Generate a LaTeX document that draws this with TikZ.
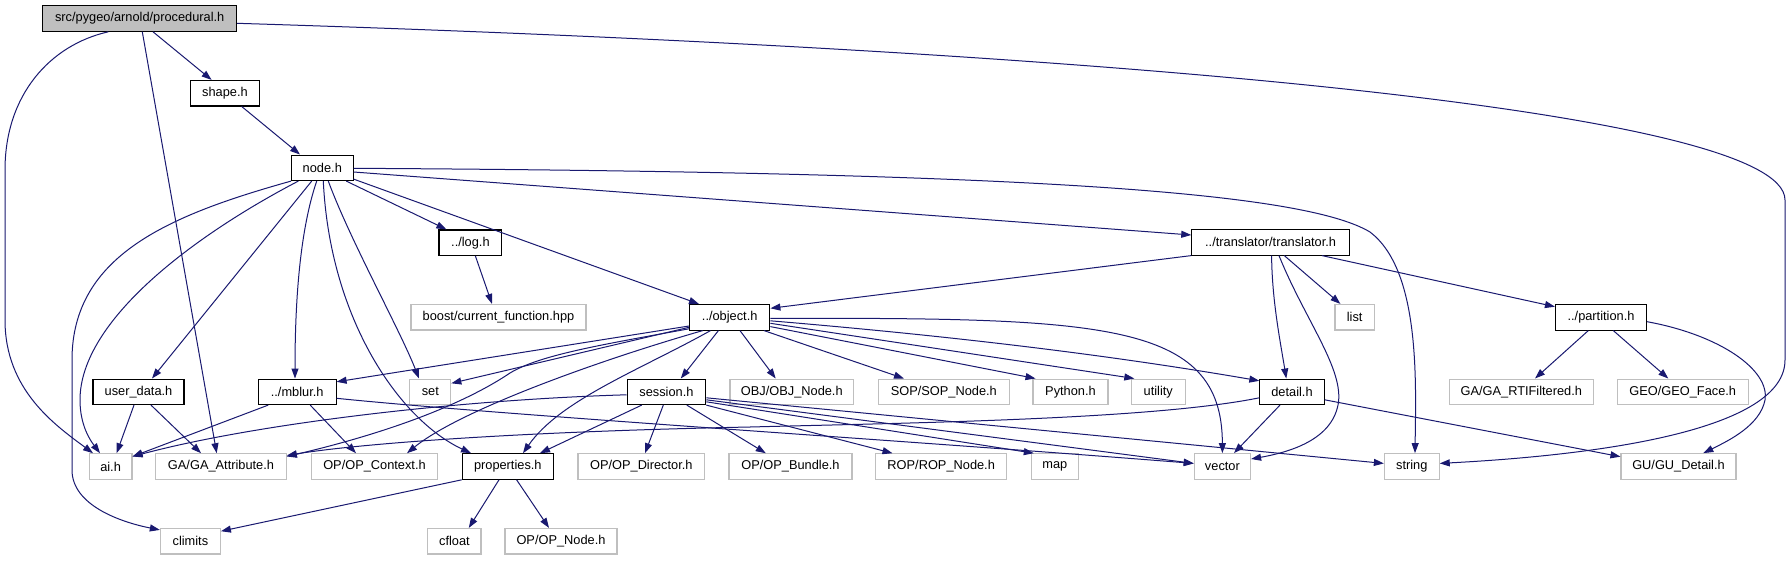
\documentclass[tikz,border=0pt]{standalone}
\usepackage{fontspec}
\setmainfont{Liberation Sans}
\usetikzlibrary{arrows.meta}
\definecolor{depblue}{RGB}{25,25,112}
\definecolor{extgray}{RGB}{191,191,191}
\tikzset{
  box/.style={line width=1.1pt, minimum height=25.5pt, inner sep=0pt, font=\fontsize{12.8}{14}\selectfont, fill=white, text=black},
  docbox/.style={box, draw=black},
  extbox/.style={box, draw=extgray},
  dep/.style={draw=depblue, line width=1pt, -{Triangle[length=10pt,width=7pt]}},
}
\begin{document}
\begin{tikzpicture}[x=1pt,y=-1pt]
\useasboundingbox (0,0) rectangle (1792,560);
\fill[white] (0,0) rectangle (1792,560);
% nodes
\node[docbox, fill=extgray, minimum width=193.6pt] (proc) at (139.7,18.5) {src/pygeo/arnold/procedural.h};
\node[docbox, minimum width=68.5pt] (shape) at (225,93.2) {shape.h};
\node[docbox, minimum width=61.5pt] (node) at (322.3,167.8) {node.h};
\node[docbox, minimum width=62.8pt] (log) at (470.4,242.7) {../log.h};
\node[docbox, minimum width=157.6pt] (trans) at (1270.6,242.3) {../translator/translator.h};
\node[extbox, minimum width=175pt] (boost) at (498.5,317.2) {boost/current\_function.hpp};
\node[docbox, minimum width=80.3pt] (object) at (729.7,317.3) {../object.h};
\node[extbox, minimum width=39.4pt] (list) at (1354.7,317.2) {list};
\node[docbox, minimum width=91pt] (partition) at (1601,317.3) {../partition.h};
\node[docbox, minimum width=91pt] (userdata) at (138.5,391.8) {user\_data.h};
\node[docbox, minimum width=77.7pt] (mblur) at (297.2,391.8) {../mblur.h};
\node[extbox, minimum width=41pt] (set) at (430.3,391.8) {set};
\node[docbox, minimum width=78.7pt] (session) at (666.4,391.8) {session.h};
\node[extbox, minimum width=123.7pt] (objnode) at (791.8,391.8) {OBJ/OBJ\_Node.h};
\node[extbox, minimum width=130.8pt] (sopnode) at (943.8,391.8) {SOP/SOP\_Node.h};
\node[extbox, minimum width=75pt] (python) at (1070.5,391.8) {Python.h};
\node[extbox, minimum width=53.8pt] (utility) at (1158.3,391.8) {utility};
\node[docbox, minimum width=64.3pt] (detail) at (1292,391.8) {detail.h};
\node[extbox, minimum width=144.2pt] (rtif) at (1521.3,391.8) {GA/GA\_RTIFiltered.h};
\node[extbox, minimum width=131.2pt] (geoface) at (1682.7,391.8) {GEO/GEO\_Face.h};
\node[extbox, minimum width=42.8pt] (ai) at (110.6,466.5) {ai.h};
\node[extbox, minimum width=130.5pt] (gaattr) at (221,466.5) {GA/GA\_Attribute.h};
\node[extbox, minimum width=126.7pt] (opctx) at (374.5,466.5) {OP/OP\_Context.h};
\node[docbox, minimum width=91pt] (props) at (507.8,466.5) {properties.h};
\node[extbox, minimum width=126.6pt] (opdir) at (641.3,466.5) {OP/OP\_Director.h};
\node[extbox, minimum width=123pt] (opbundle) at (790.5,466.5) {OP/OP\_Bundle.h};
\node[extbox, minimum width=130.7pt] (ropnode) at (941.2,466.5) {ROP/ROP\_Node.h};
\node[extbox, minimum width=47pt] (map) at (1054.8,466.5) {map};
\node[extbox, minimum width=56.3pt] (vector) at (1222.4,466.4) {vector};
\node[extbox, minimum width=54.8pt] (string) at (1411.8,466.4) {string};
\node[extbox, minimum width=115pt] (gudetail) at (1678.5,466.4) {GU/GU\_Detail.h};
\node[extbox, minimum width=60pt] (climits) at (190.4,541.2) {climits};
\node[extbox, minimum width=53.2pt] (cfloat) at (454.4,541.2) {cfloat};
\node[extbox, minimum width=112pt] (opnode) at (561,541.2) {OP/OP\_Node.h};
% edges from procedural.h
\draw[dep] ([xshift=13.3pt]proc.south) -- ([xshift=-13.4pt]shape.north);
\draw[dep] ([xshift=-31.4pt]proc.south) .. controls (50,45) and (5,95) .. (5,170) -- (5,320) .. controls (5,390) and (55,425) .. ([xshift=-17.6pt]ai.north);
\draw[dep] ([xshift=2.6pt]proc.south) -- ([xshift=-4.3pt]gaattr.north);
\draw[dep] ([yshift=-4.8pt]proc.east) .. controls (1100,50) and (1785,110) .. (1785,200) -- (1785,360) .. controls (1785,430) and (1600,455) .. ([yshift=3pt]string.east);
% shape.h
\draw[dep] ([xshift=16.7pt]shape.south) -- ([xshift=-22.3pt]node.north);
% node.h
\draw[dep] (node.south west) .. controls (170,215) and (72,255) .. (72,360) -- (72,470) .. controls (72,505) and (120,522) .. ([yshift=-2pt]climits.north west);
\draw[dep] ([xshift=-24pt]node.south) .. controls (195,235) and (80,320) .. (80,400) .. controls (80,425) and (90,440) .. ([xshift=-10.6pt]ai.north);
\draw[dep] ([xshift=-10.6pt]node.south) -- ([xshift=13.5pt]userdata.north);
\draw[dep] ([xshift=-5.6pt]node.south) .. controls (300,230) and (295,300) .. ([xshift=-2.2pt]mblur.north);
\draw[dep] ([xshift=1pt]node.south) .. controls (330,320) and (400,420) .. ([xshift=-36.8pt]props.north);
\draw[dep] ([xshift=6pt]node.south) .. controls (350,240) and (400,330) .. ([xshift=-11.3pt]set.north);
\draw[dep] ([xshift=24pt]node.south) -- ([xshift=-24pt]log.north);
\draw[dep] ([yshift=2pt]node.south east) -- ([xshift=-30.7pt]object.north);
\draw[dep] ([yshift=-4.2pt]node.east) -- ([yshift=7.3pt]trans.west);
\draw[dep] ([yshift=-0.5pt]node.east) .. controls (1000,172) and (1300,190) .. (1370,232) .. controls (1420,270) and (1416,380) .. ([xshift=3.2pt]string.north);
% log.h
\draw[dep] ([xshift=5pt]log.south) -- ([xshift=-6.5pt]boost.north);
% translator.h
\draw[dep] (trans.south west) -- ([yshift=9pt]object.east);
\draw[dep] ([xshift=1pt]trans.south) .. controls (1272,300) and (1280,340) .. ([xshift=-5.7pt]detail.north);
\draw[dep] ([xshift=8.4pt]trans.south) .. controls (1305,320) and (1345,370) .. (1338,405) .. controls (1331,440) and (1290,452) .. ([yshift=7.4pt]vector.east);
\draw[dep] ([xshift=13.7pt]trans.south) -- ([xshift=-14.3pt]list.north);
\draw[dep] ([xshift=51.4pt]trans.south) -- ([yshift=10.6pt]partition.west);
% partition.h
\draw[dep] ([xshift=-12.7pt]partition.south) -- ([xshift=13.7pt]rtif.north);
\draw[dep] ([xshift=12.3pt]partition.south) -- ([xshift=-14.4pt]geoface.north);
\draw[dep] ([yshift=-4.4pt]partition.east) .. controls (1720,335) and (1770,370) .. (1765,400) .. controls (1760,425) and (1730,440) .. ([xshift=24.8pt]gudetail.north);
% object.h
\draw[dep] ([yshift=-8.7pt]object.west) -- ([yshift=10pt]mblur.east);
\draw[dep] ([yshift=-10pt]object.west) -- ([yshift=8.5pt]set.east);
\draw[dep] ([yshift=-11.5pt]object.west) .. controls (600,345) and (540,355) .. (510,373) .. controls (470,400) and (400,430) .. ([yshift=10pt]gaattr.east);
\draw[dep] ([xshift=-27pt]object.south) .. controls (600,360) and (460,410) .. ([xshift=32.5pt]opctx.north);
\draw[dep] ([xshift=-19.2pt]object.south) .. controls (640,370) and (560,400) .. ([xshift=15.2pt]props.north);
\draw[dep] ([xshift=-11.3pt]object.south) -- ([xshift=14.4pt]session.north);
\draw[dep] ([xshift=10.3pt]object.south) -- ([xshift=-16.1pt]objnode.north);
\draw[dep] ([xshift=34.3pt]object.south) -- ([xshift=-39.8pt]sopnode.north);
\draw[dep] ([yshift=-9.3pt]object.east) -- ([xshift=-35pt]python.north);
\draw[dep] ([yshift=-6pt]object.east) -- ([xshift=-24pt]utility.north);
\draw[dep] ([yshift=-3.5pt]object.east) .. controls (1000,340) and (1150,362) .. ([yshift=11pt]detail.west);
\draw[dep] ([yshift=-1pt]object.east) .. controls (1100,318) and (1222,320) .. (vector.north);
% user_data.h
\draw[dep] ([xshift=-4.5pt]userdata.south) -- ([xshift=6pt]ai.north);
\draw[dep] ([xshift=12.5pt]userdata.south) -- ([xshift=-20pt]gaattr.north);
% mblur.h
\draw[dep] ([xshift=-29pt]mblur.south) -- ([yshift=10pt]ai.east);
\draw[dep] ([xshift=13pt]mblur.south) -- ([xshift=-18.5pt]opctx.north);
\draw[dep] ([yshift=-6.5pt]mblur.east) .. controls (500,415) and (900,440) .. ([yshift=3pt]vector.west);
% session.h
\draw[dep] ([yshift=-3pt]session.west) .. controls (450,400) and (250,425) .. ([yshift=10pt]ai.east);
\draw[dep] ([xshift=-24.7pt]session.south) -- ([xshift=32.2pt]props.north);
\draw[dep] ([xshift=-3.1pt]session.south) -- ([xshift=3.7pt]opdir.north);
\draw[dep] ([xshift=20.4pt]session.south) -- ([xshift=-24.7pt]opbundle.north);
\draw[dep] (session.south east) -- ([xshift=-48.7pt]ropnode.north);
\draw[dep] ([yshift=-10pt]session.east) -- ([xshift=-21pt]map.north);
\draw[dep] ([yshift=-8pt]session.east) -- ([yshift=3pt]vector.west);
\draw[dep] ([yshift=-6pt]session.east) -- ([yshift=3pt]string.west);
% detail.h
\draw[dep] ([yshift=-6pt]detail.west) .. controls (1150,420) and (900,423) .. (750,427) .. controls (500,432) and (350,445) .. ([yshift=11pt]gaattr.east);
\draw[dep] ([xshift=-12pt]detail.south) -- ([xshift=11.6pt]vector.north);
\draw[dep] ([yshift=-8pt]detail.east) -- ([yshift=9.7pt]gudetail.west);
% properties.h
\draw[dep] (props.south west) -- ([yshift=10pt]climits.east);
\draw[dep] ([xshift=-8.8pt]props.south) -- ([xshift=14.4pt]cfloat.north);
\draw[dep] ([xshift=8.8pt]props.south) -- ([xshift=-12pt]opnode.north);
\end{tikzpicture}
\end{document}
